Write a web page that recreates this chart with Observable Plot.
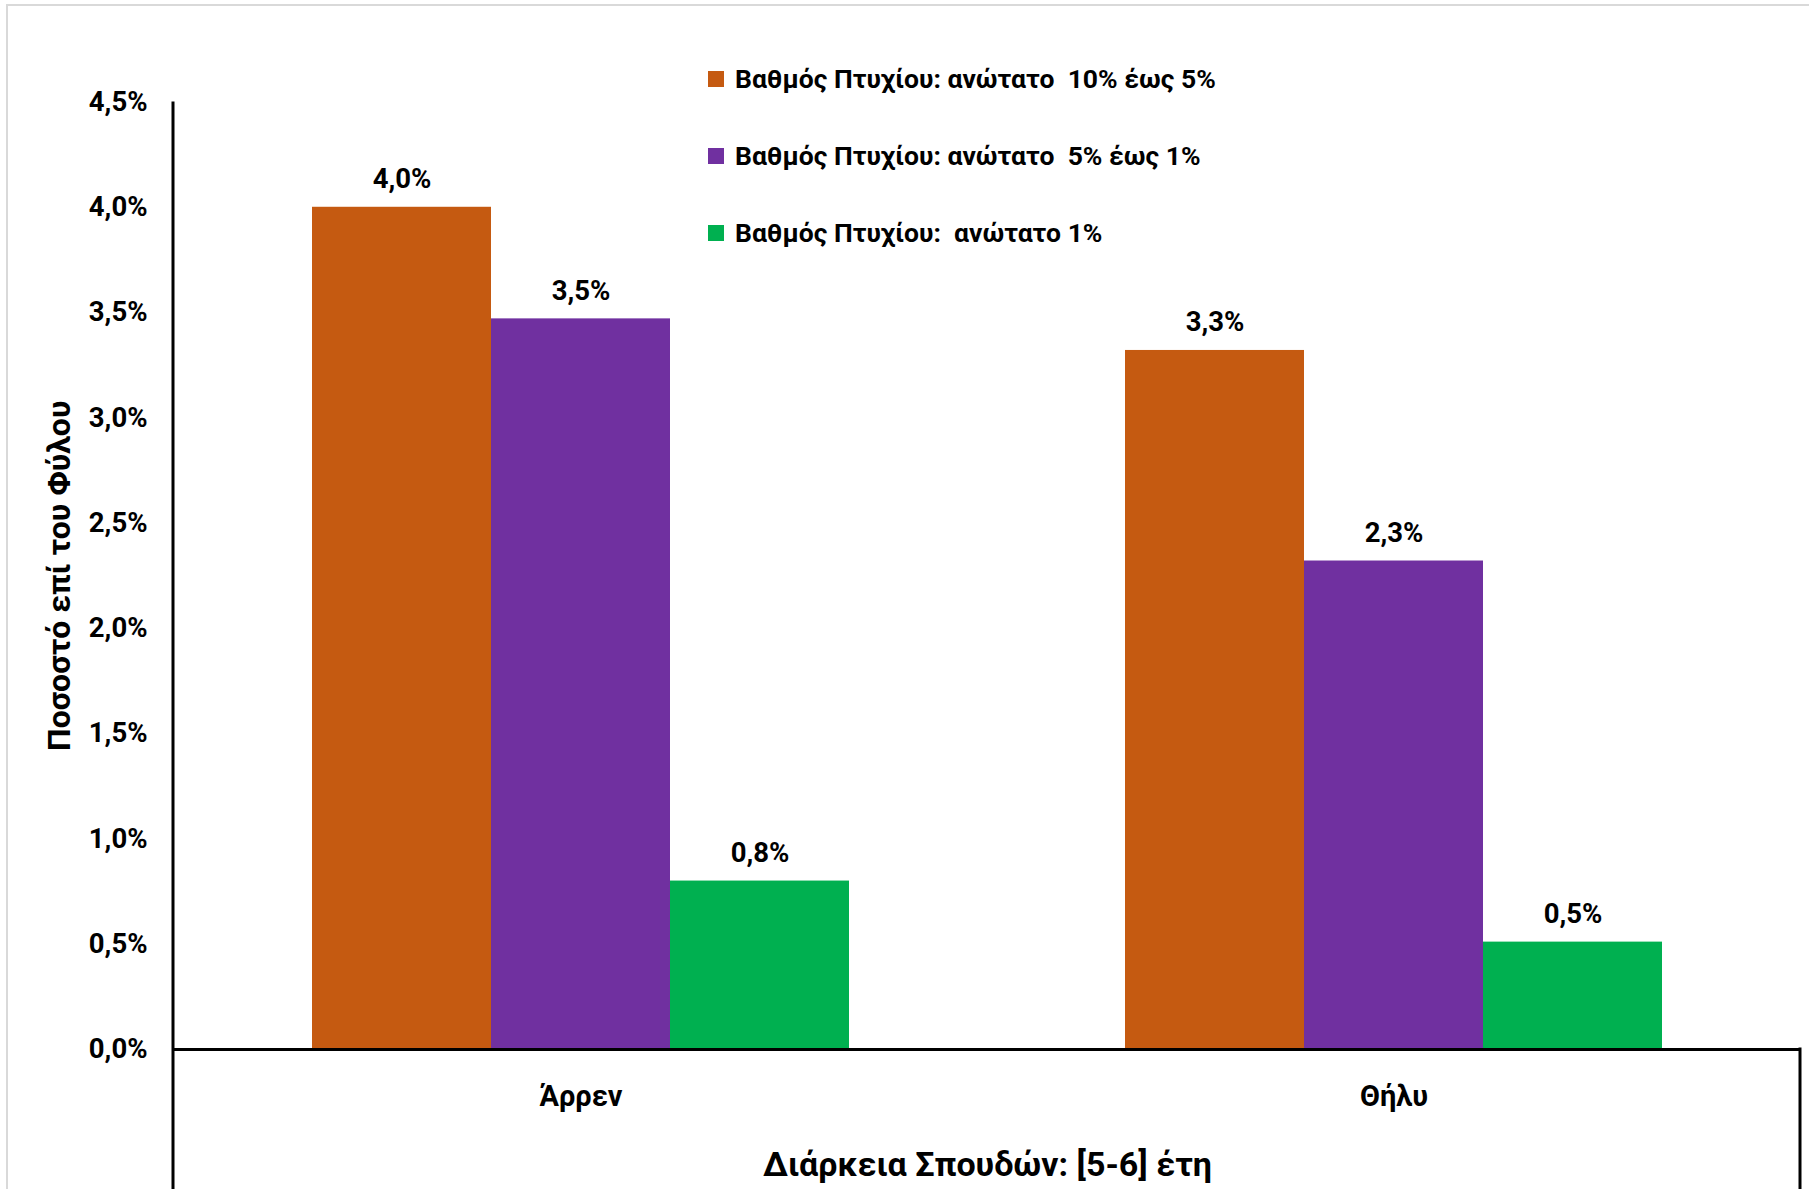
<!DOCTYPE html>
<html>
<head>
<meta charset="utf-8">
<script src="https://cdn.jsdelivr.net/npm/d3@7"></script>
<script src="https://cdn.jsdelivr.net/npm/@observablehq/plot@0.6"></script>
<style>
  html, body { margin: 0; padding: 0; background: #fff; }
  #wrap { position: relative; width: 1809px; height: 1189px; overflow: hidden; background: #fff; }
  #border { position: absolute; left: 6px; top: 4px; width: 1900px; height: 1300px; border: 2px solid #d9d9d9; box-sizing: border-box; pointer-events: none; }
  #chart { position: absolute; left: 0; top: 0; }
  #legend { position: absolute; left: 708px; top: 40px; }
  #legend .lg-swatches { font-family: Roboto, "Noto Sans", sans-serif; font-size: 26.5px; font-weight: bold; color: #000; margin: 0; }
  #legend .lg-swatch { height: 77px; padding: 0; margin: 0; display: flex; align-items: center; }
  #legend .lg-swatch > svg { margin-right: 11px; }
  #legend .lg-swatch-label { white-space: pre; overflow: visible; }
  #chart g[aria-label="y-axis tick label"] { font-size: 27.5px; }
  #chart g[aria-label="y-axis label"] { font-size: 32px; }
  #chart g[aria-label="fx-axis tick label"] { font-size: 29px; }
  #chart g[aria-label="fx-axis label"] { font-size: 34px; }
</style>
</head>
<body>
<div id="wrap">
  <div id="border"></div>
  <div id="chart"></div>
  <div id="legend"></div>
</div>
<script>
// ---- data ----
const categories = ["Άρρεν", "Θήλυ"];
const series = [
  "Βαθμός Πτυχίου: ανώτατο  10% έως 5%",
  "Βαθμός Πτυχίου: ανώτατο  5% έως 1%",
  "Βαθμός Πτυχίου:  ανώτατο 1%"
];
const seriesColors = ["#C55A11", "#7030A0", "#00B050"];
const valuesTop10to5 = [4.00, 3.32];
const valuesTop5to1 = [3.47, 2.32];
const valuesTop1 = [0.80, 0.51];
const yTicks = [0, 0.5, 1.0, 1.5, 2.0, 2.5, 3.0, 3.5, 4.0, 4.5];
const yTitle = "Ποσοστό επί του Φύλου";
const xTitle = "Διάρκεια Σπουδών: [5-6] έτη";

// ---- table built from the arrays ----
const seriesValues = [valuesTop10to5, valuesTop5to1, valuesTop1];
const data = categories.flatMap((c, i) =>
  series.map((s, j) => ({category: c, series: s, value: seriesValues[j][i]}))
);
const fmt = v => v.toFixed(1).replace(".", ",") + "%";

const W = 1809, H = 1189;
const mL = 173, mR = 9, mT = 101.5, mB = 140;
const font = 'Roboto, "Noto Sans", sans-serif';

const plot = Plot.plot({
  width: W, height: H,
  marginLeft: mL, marginRight: mR, marginTop: mT, marginBottom: mB,
  style: {fontFamily: font, fontSize: "25px", fontWeight: "bold", color: "#000", background: "transparent", overflow: "visible"},
  fx: {domain: categories, padding: 0, axis: "bottom", tickSize: 0, tickPadding: 36,
       label: xTitle, labelAnchor: "center", labelOffset: 126},
  x: {domain: series, paddingInner: 0, paddingOuter: 0.76, axis: null},
  y: {domain: [0, 4.5], ticks: yTicks, tickFormat: fmt, tickSize: 0, tickPadding: 27,
      label: yTitle, labelAnchor: "center", labelOffset: 127, labelArrow: "none"},
  color: {domain: series, range: seriesColors},
  marks: [
    Plot.barY(data, {fx: "category", x: "series", y: "value", fill: "series"}),
    Plot.text(data, {fx: "category", x: "series", y: "value", text: d => fmt(d.value),
                     dy: -28, lineAnchor: "middle", fill: "#000", fontSize: 27.5}),
    Plot.ruleY([0], {stroke: "#000", strokeWidth: 3})
  ]
});

document.getElementById("chart").appendChild(plot);

// axis frame lines (left value axis, and the category-axis box sides)
const svg = d3.select(plot);
const ys = plot.scale("y");
const y0 = ys.apply(0), yTop = ys.apply(4.5);
svg.append("line").attr("x1", mL).attr("x2", mL).attr("y1", yTop).attr("y2", H)
  .attr("stroke", "#000").attr("stroke-width", 3);
svg.append("line").attr("x1", W - mR).attr("x2", W - mR).attr("y1", y0 - 1.5).attr("y2", H)
  .attr("stroke", "#000").attr("stroke-width", 3);

// legend
const legend = plot.legend("color", {columns: 1, swatchSize: 16, className: "lg"});
document.getElementById("legend").appendChild(legend);
</script>
</body>
</html>
